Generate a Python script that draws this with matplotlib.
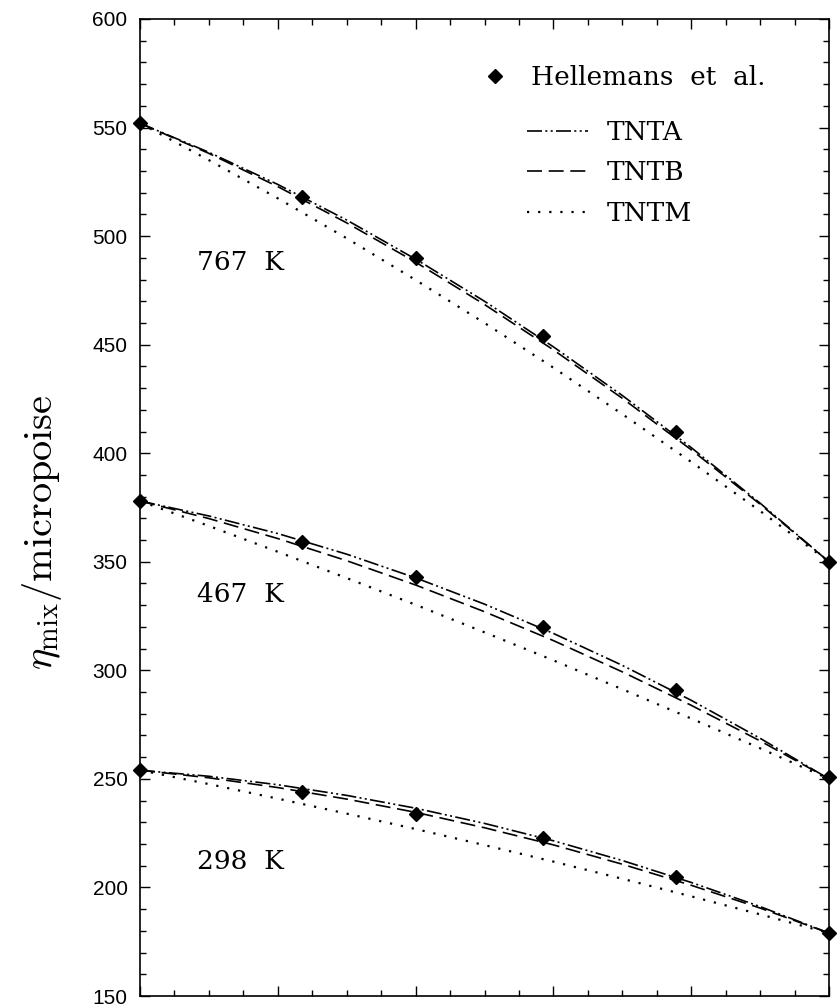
import matplotlib.pyplot as plt
from matplotlib.ticker import MultipleLocator
from matplotlib.lines import Line2D

# mole fraction grid for the model curves
x_model = [0.0, 0.1, 0.2, 0.3, 0.4, 0.5, 0.6, 0.7, 0.8, 0.9, 1.0]

# mixture viscosity (micropoise) from the three models, per temperature
tnta_767 = [552, 538.6, 523.8, 507.4, 489.4, 470.0, 449.0, 426.6, 402.6, 377.0, 350]
tntb_767 = [552, 538.1, 522.8, 506.1, 488.0, 468.5, 447.6, 425.3, 401.6, 376.5, 350]
tntm_767 = [552, 535.0, 517.4, 499.0, 479.8, 460.0, 439.4, 418.0, 396.0, 373.4, 350]

tnta_467 = [378, 371.1, 363.0, 353.5, 342.6, 330.5, 317.0, 302.3, 286.2, 268.7, 250]
tntb_467 = [378, 369.9, 360.7, 350.5, 339.3, 327.0, 313.7, 299.3, 283.9, 267.5, 250]
tntm_467 = [378, 366.5, 354.6, 342.5, 330.2, 317.5, 304.6, 291.3, 277.8, 264.1, 250]

tnta_298 = [254, 251.2, 247.3, 242.4, 236.5, 229.5, 221.5, 212.4, 202.3, 191.2, 179]
tntb_298 = [254, 250.5, 246.0, 240.7, 234.6, 227.5, 219.6, 210.7, 201.0, 190.5, 179]
tntm_298 = [254, 247.6, 240.9, 234.0, 226.9, 219.5, 211.9, 204.0, 195.9, 187.6, 179]

# Hellemans et al. measurements
x_exp = [0.0, 0.235, 0.40, 0.585, 0.778, 1.0]
exp_767 = [552, 518, 490, 454, 410, 350]
exp_467 = [378, 359, 343, 320, 291, 251]
exp_298 = [254, 244, 234, 223, 205, 179]

temps = ["767 K", "467 K", "298 K"]
temp_label_y = [488, 335, 212]

plt.rcParams["mathtext.fontset"] = "cm"
plt.rcParams["axes.unicode_minus"] = False

W, H = 838, 1006
fig = plt.figure(figsize=(W / 100, H / 100), dpi=100)
ax = fig.add_axes([140 / W, 1 - 996 / H, 689 / W, 977 / H])

ls_a = (0, (9, 2, 1.2, 2, 1.2, 2))
ls_b = (0, (9, 4))
ls_m = (0, (1, 4))
lw = 1.2

for ta, tb, tm in [(tnta_767, tntb_767, tntm_767),
                   (tnta_467, tntb_467, tntm_467),
                   (tnta_298, tntb_298, tntm_298)]:
    ax.plot(x_model, ta, color="k", lw=lw, linestyle=ls_a)
    ax.plot(x_model, tb, color="k", lw=lw, linestyle=ls_b)
    ax.plot(x_model, tm, color="k", lw=1.6, linestyle=ls_m)

for ye in [exp_767, exp_467, exp_298]:
    ax.plot(x_exp, ye, "D", color="k", ms=7, clip_on=False, zorder=5)

for lab, yl in zip(temps, temp_label_y):
    ax.text(0.083, yl, lab.replace(" ", "  "), family="DejaVu Serif",
            fontsize=19, va="center", ha="left")

ax.set_xlim(0, 1)
ax.set_ylim(150, 600)
ax.xaxis.set_major_locator(MultipleLocator(0.2))
ax.xaxis.set_minor_locator(MultipleLocator(0.05))
ax.yaxis.set_major_locator(MultipleLocator(50))
ax.yaxis.set_minor_locator(MultipleLocator(10))
ax.tick_params(which="both", direction="in", top=True, right=True,
               labelbottom=False, width=1.0)
ax.tick_params(which="major", length=7)
ax.tick_params(which="minor", length=4)
ax.tick_params(axis="y", labelsize=15, pad=9)
for lbl in ax.get_yticklabels():
    lbl.set_family("Liberation Sans")
for sp in ax.spines.values():
    sp.set_linewidth(1.2)

ax.set_ylabel(r"$\eta_\mathrm{mix}$/micropoise", family="cmr10",
              fontsize=29)
ax.yaxis.set_label_coords(-0.11, 0.475)

leg_font = {"family": "DejaVu Serif", "size": 19}
h_exp = Line2D([], [], marker="D", color="k", ls="none", ms=7)
leg1 = fig.legend([h_exp], ["Hellemans  et  al."], loc="upper left",
                  bbox_to_anchor=(462 / W, 1 - 52 / H), frameon=False,
                  prop=leg_font, handlelength=1.5, handletextpad=0.6,
                  borderpad=0)
h_a = Line2D([], [], color="k", lw=lw, linestyle=ls_a)
h_b = Line2D([], [], color="k", lw=lw, linestyle=ls_b)
h_m = Line2D([], [], color="k", lw=1.6, linestyle=ls_m)
leg2 = fig.legend([h_a, h_b, h_m], ["TNTA", "TNTB", "TNTM"], loc="upper left",
                  bbox_to_anchor=(514 / W, 1 - 107 / H), frameon=False,
                  prop=leg_font, handlelength=2.3, handletextpad=0.7,
                  labelspacing=0.58, borderpad=0)

fig.savefig("out.png", dpi=100)
